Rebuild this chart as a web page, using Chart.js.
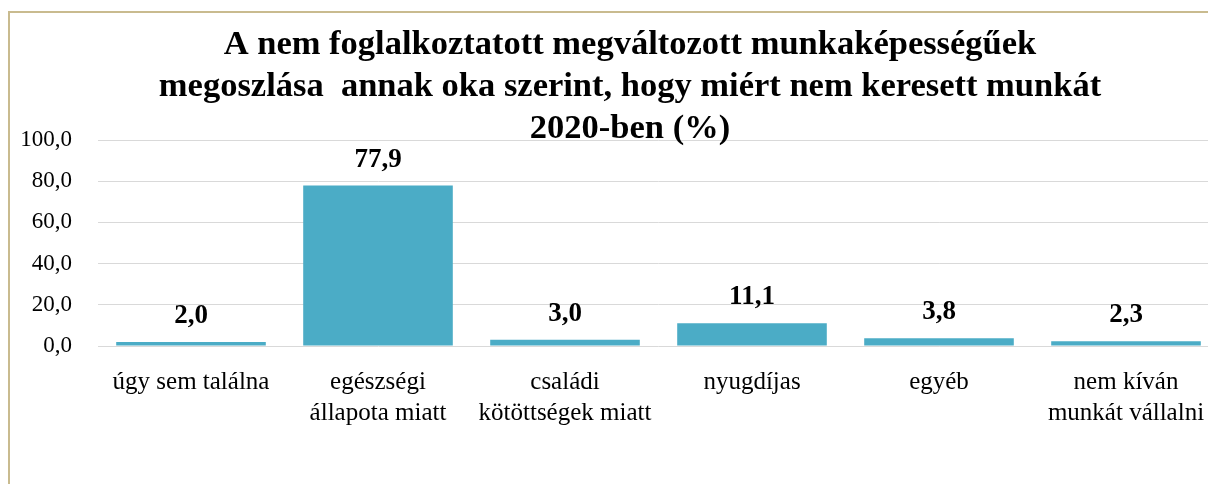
<!DOCTYPE html>
<html><head><meta charset="utf-8">
<script src="https://cdn.jsdelivr.net/npm/chart.js@4"></script>
<style>
html,body{margin:0;padding:0;overflow:hidden;background:#fff;width:1208px;height:484px;}
#frame{position:absolute;left:8px;top:11px;width:1250px;height:490px;border-left:2px solid #c9bb8f;border-top:2px solid #c9bb8f;}
#c{position:absolute;left:0;top:0;}
</style></head><body>
<div id="frame"><canvas id="c" width="1240" height="471" style="width:1240px;height:471px"></canvas></div>
<script>
const titleLines = [
  "A nem foglalkoztatott megváltozott munkaképességűek",
  "megoszlása  annak oka szerint, hogy miért nem keresett munkát",
  "2020-ben (%)"
];
const categories = [
  ["úgy sem találna"],
  ["egészségi", "állapota miatt"],
  ["családi", "kötöttségek miatt"],
  ["nyugdíjas"],
  ["egyéb"],
  ["nem kíván", "munkát vállalni"]
];
const values = [2.0, 77.9, 3.0, 11.1, 3.8, 2.3];
const yTicks = [0, 20, 40, 60, 80, 100];

const SERIF = "'Liberation Serif', 'Times New Roman', serif";
const fmt = v => v.toFixed(1).replace('.', ',');

const overlay = {
  id: 'overlay',
  afterDatasetsDraw(chart) {
    const ctx = chart.ctx;
    const meta = chart.getDatasetMeta(0);
    ctx.save();
    ctx.fillStyle = '#000';
    ctx.font = "bold 27px " + SERIF;
    ctx.textAlign = 'center';
    ctx.textBaseline = 'alphabetic';
    meta.data.forEach((bar, i) => {
      ctx.fillText(fmt(values[i]), bar.x, bar.y - 19);
    });
    ctx.font = "bold 34.5px " + SERIF;
    const cx = chart.width / 2;
    const bases = [41, 83, 125];
    titleLines.forEach((t, i) => ctx.fillText(t, cx, bases[i]));
    ctx.restore();
  }
};

new Chart(document.getElementById('c'), {
  type: 'bar',
  data: {
    labels: categories,
    datasets: [{
      data: values,
      backgroundColor: '#4bacc6',
      borderWidth: 0,
      categoryPercentage: 0.8,
      barPercentage: 1.0
    }]
  },
  options: {
    responsive: false,
    animation: false,
    devicePixelRatio: 1,
    layout: { padding: { top: 127, bottom: 38, left: 0, right: 30.5 } },
    plugins: { legend: { display: false }, tooltip: { enabled: false }, title: { display: false } },
    scales: {
      x: {
        grid: { display: false, drawTicks: false },
        border: { display: false },
        ticks: { color: '#000', font: { family: SERIF, size: 25, lineHeight: 1.24 }, padding: 21, maxRotation: 0, autoSkip: false },
        afterFit(s) { s.height = 100; }
      },
      y: {
        min: 0, max: 100,
        afterBuildTicks(s) { s.ticks = yTicks.map(v => ({ value: v })); },
        grid: { color: '#d9d9d9', lineWidth: 1, drawTicks: false },
        border: { display: false },
        ticks: { color: '#000', font: { family: SERIF, size: 23 }, padding: 25.5, callback: v => fmt(v) },
        afterFit(s) { s.width = 87.5; }
      }
    }
  },
  plugins: [overlay]
});
</script>
</body></html>
